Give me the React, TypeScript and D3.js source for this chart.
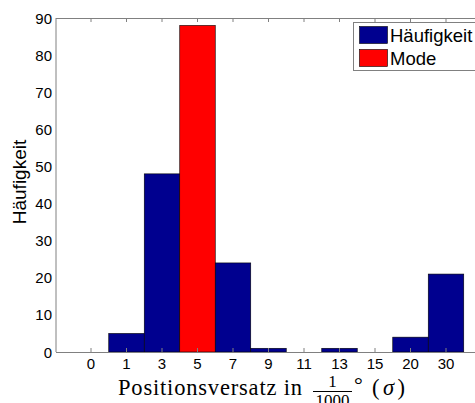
import React from 'react';
import * as d3 from 'd3';

const categories = ['0', '1', '3', '5', '7', '9', '11', '13', '15', '20', '30'];
const counts = [0, 5, 48, 88, 24, 1, 0, 1, 0, 4, 21];
const modeCategory = '5';
const yTicks = [0, 10, 20, 30, 40, 50, 60, 70, 80, 90];
const legendItems = ['Häufigkeit', 'Mode'];

const W = 475;
const H = 403;
const left = 56;
const top = 18;
const bottom = 352;
const right = 480;

const BLUE = '#00008f';
const RED = '#ff0000';
const AXIS = '#808080';
const sans = '"Liberation Sans", Arial, Helvetica, sans-serif';
const serif = '"Liberation Serif", "Times New Roman", serif';

export default function App() {
  const x = d3.scaleBand<string>()
    .domain(categories)
    .range([73.25, 73.25 + 35.5 * categories.length])
    .padding(0);

  const y = d3.scaleLinear().domain([0, 90]).range([bottom, top]);

  const cx = (c: string) => (x(c) ?? 0) + x.bandwidth() / 2;

  return (
    <svg width={W} height={H} style={{ position: 'absolute', left: 0, top: 0, background: '#fff' }}>
      <rect x={0} y={0} width={W} height={H} fill="#fff" />

      {/* bars */}
      {categories.map((c, i) =>
        counts[i] > 0 ? (
          <rect
            key={c}
            x={x(c)}
            y={y(counts[i])}
            width={x.bandwidth()}
            height={y(0) - y(counts[i])}
            fill={c === modeCategory ? RED : BLUE}
            stroke="#000"
            strokeWidth={0.6}
          />
        ) : null
      )}

      {/* axes box (left, top, bottom) */}
      <line x1={left} x2={left} y1={top} y2={bottom} stroke={AXIS} strokeWidth={1} />
      <line x1={left} x2={right} y1={top + 0.5} y2={top + 0.5} stroke={AXIS} strokeWidth={1} />
      <line x1={left} x2={right} y1={bottom + 0.5} y2={bottom + 0.5} stroke={AXIS} strokeWidth={1} />

      {/* x ticks, inward on top and bottom */}
      {categories.map((c) => (
        <g key={c}>
          <line x1={cx(c)} x2={cx(c)} y1={bottom} y2={bottom - 4} stroke={AXIS} />
          <line x1={cx(c)} x2={cx(c)} y1={top} y2={top + 4} stroke={AXIS} />
          <text x={cx(c)} y={369} textAnchor="middle" fontFamily={sans} fontSize={15} fill="#000">
            {c}
          </text>
        </g>
      ))}

      {/* y tick labels */}
      {yTicks.map((t) => (
        <text key={t} x={52} y={y(t) + 5.5} textAnchor="end" fontFamily={sans} fontSize={15} fill="#000">
          {t}
        </text>
      ))}

      {/* y label */}
      <text
        transform={`translate(26,182) rotate(-90)`}
        textAnchor="middle"
        fontFamily={sans}
        fontSize={19}
        fill="#000"
      >
        Häufigkeit
      </text>

      {/* x label */}
      <g fontFamily={serif} fill="#000">
        <text x={118} y={395} fontSize={22.5} textLength={184} lengthAdjust="spacing">
          Positionsversatz in
        </text>
        <text x={332.5} y={387} fontSize={17} textAnchor="middle">1</text>
        <line x1={313} x2={352} y1={391.5} y2={391.5} stroke="#000" strokeWidth={1} />
        <text x={332.5} y={406} fontSize={17} textAnchor="middle">1000</text>
        <text x={354} y={392} fontSize={22}>°</text>
        <text x={372} y={395} fontSize={22.5} textLength={33} lengthAdjust="spacing">
          (<tspan fontStyle="italic">σ</tspan>)
        </text>
      </g>

      {/* legend */}
      <g>
        <rect x={353.5} y={22.5} width={125} height={48} fill="#fff" stroke={AXIS} />
        {legendItems.map((name, i) => (
          <g key={name} transform={`translate(0,${i * 23})`}>
            <rect x={359.5} y={26.5} width={28} height={17} fill={i === 0 ? BLUE : RED} stroke="#000" strokeWidth={0.6} />
            <text x={390} y={42} fontFamily={sans} fontSize={18.5} fill="#000">
              {name}
            </text>
          </g>
        ))}
      </g>
    </svg>
  );
}
